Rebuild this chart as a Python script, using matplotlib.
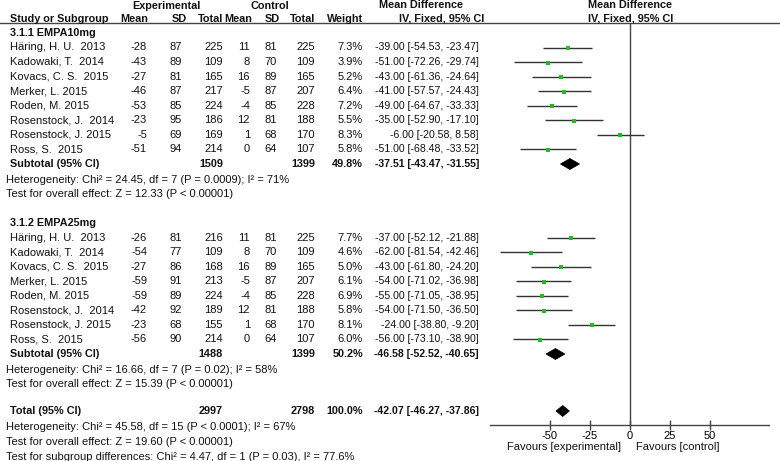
import matplotlib
matplotlib.use("Agg")
import matplotlib.pyplot as plt
from matplotlib.patches import Polygon

plt.rcParams['font.family'] = ['Liberation Sans', 'DejaVu Sans']

# ---------------- data ----------------
studies = ["Häring, H. U.  2013", "Kadowaki, T.  2014", "Kovacs, C. S.  2015",
           "Merker, L. 2015", "Roden, M. 2015", "Rosenstock, J.  2014",
           "Rosenstock, J. 2015", "Ross, S.  2015"]

group_names = ["3.1.1 EMPA10mg", "3.1.2 EMPA25mg"]

exp_mean1 = [-28, -43, -27, -46, -53, -23, -5, -51]
exp_sd1 = [87, 89, 81, 87, 85, 95, 69, 94]
exp_n1 = [225, 109, 165, 217, 224, 186, 169, 214]
ctl_mean1 = [11, 8, 16, -5, -4, 12, 1, 0]
ctl_sd1 = [81, 70, 89, 87, 85, 81, 68, 64]
ctl_n1 = [225, 109, 165, 207, 228, 188, 170, 107]
weight1 = [7.3, 3.9, 5.2, 6.4, 7.2, 5.5, 8.3, 5.8]
md1 = [-39.00, -51.00, -43.00, -41.00, -49.00, -35.00, -6.00, -51.00]
lo1 = [-54.53, -72.26, -61.36, -57.57, -64.67, -52.90, -20.58, -68.48]
hi1 = [-23.47, -29.74, -24.64, -24.43, -33.33, -17.10, 8.58, -33.52]

exp_mean2 = [-26, -54, -27, -59, -59, -42, -23, -56]
exp_sd2 = [81, 77, 86, 91, 89, 92, 68, 90]
exp_n2 = [216, 109, 168, 213, 224, 189, 155, 214]
ctl_mean2 = [11, 8, 16, -5, -4, 12, 1, 0]
ctl_sd2 = [81, 70, 89, 87, 85, 81, 68, 64]
ctl_n2 = [225, 109, 165, 207, 228, 188, 170, 107]
weight2 = [7.7, 4.6, 5.0, 6.1, 6.9, 5.8, 8.1, 6.0]
md2 = [-37.00, -62.00, -43.00, -54.00, -55.00, -54.00, -24.00, -56.00]
lo2 = [-52.12, -81.54, -61.80, -71.02, -71.05, -71.50, -38.80, -73.10]
hi2 = [-21.88, -42.46, -24.20, -36.98, -38.95, -36.50, -9.20, -38.90]

sub_exp_n = [1509, 1488]
sub_ctl_n = [1399, 1399]
sub_weight = [49.8, 50.2]
sub_md = [-37.51, -46.58]
sub_lo = [-43.47, -52.52]
sub_hi = [-31.55, -40.65]
sub_het = ["Heterogeneity: Chi² = 24.45, df = 7 (P = 0.0009); I² = 71%",
           "Heterogeneity: Chi² = 16.66, df = 7 (P = 0.02); I² = 58%"]
sub_test = ["Test for overall effect: Z = 12.33 (P < 0.00001)",
            "Test for overall effect: Z = 15.39 (P < 0.00001)"]

tot_exp_n = 2997
tot_ctl_n = 2798
tot_weight = 100.0
tot_md = -42.07
tot_lo = -46.27
tot_hi = -37.86
tot_notes = ["Heterogeneity: Chi² = 45.58, df = 15 (P < 0.0001); I² = 67%",
             "Test for overall effect: Z = 19.60 (P < 0.00001)",
             "Test for subgroup differences: Chi² = 4.47, df = 1 (P = 0.03), I² = 77.6%"]

xticks = [-50, -25, 0, 25, 50]
fav_left = "Favours [experimental]"
fav_right = "Favours [control]"

groups = [
    dict(em=exp_mean1, es=exp_sd1, en=exp_n1, cm=ctl_mean1, cs=ctl_sd1, cn=ctl_n1,
         w=weight1, md=md1, lo=lo1, hi=hi1),
    dict(em=exp_mean2, es=exp_sd2, en=exp_n2, cm=ctl_mean2, cs=ctl_sd2, cn=ctl_n2,
         w=weight2, md=md2, lo=lo2, hi=hi2),
]

# ---------------- layout ----------------
W, H = 780, 461
fig = plt.figure(figsize=(W / 100, H / 100), dpi=100)
fig.patch.set_facecolor('white')

tab = fig.add_axes([0, 0, 1, 1])
tab.set_xlim(0, W)
tab.set_ylim(H, 0)
tab.axis('off')

AX_L, AX_R, AX_T, AX_B = 490, 769, 23, 425
X0PIX = 630
PX_PER_UNIT = 1.6
fx = fig.add_axes([AX_L / W, (H - AX_B) / H, (AX_R - AX_L) / W, (AX_B - AX_T) / H])
fx.set_xlim((AX_L - X0PIX) / PX_PER_UNIT, (AX_R - X0PIX) / PX_PER_UNIT)
fx.set_ylim(AX_B, AX_T)
fx.patch.set_alpha(0)
for s in ['top', 'left', 'right']:
    fx.spines[s].set_visible(False)
fx.spines['bottom'].set_color('#444444')
fx.spines['bottom'].set_linewidth(1.0)
fx.set_yticks([])
fx.set_xticks(xticks)
fx.set_xticklabels([str(t) for t in xticks])
fx.tick_params(axis='x', direction='inout', length=7, width=1, color='#444444',
               labelsize=8, pad=1)
fx.axvline(0, color='#444444', lw=1.0)

FS = 8
HFS = 7.8
NFS = 7.6
TXT = '#111111'

def t(x, y, s, ha='left', bold=False, size=FS):
    tab.text(x, y, s, ha=ha, va='center', fontsize=size,
             fontweight='bold' if bold else 'normal', color=TXT)

# header
t(166, 6, "Experimental", ha='center', bold=True, size=HFS)
t(270, 6, "Control", ha='center', bold=True, size=HFS)
t(421, 5.5, "Mean Difference", ha='center', bold=True, size=HFS)
t(630, 5.5, "Mean Difference", ha='center', bold=True, size=HFS)
t(10, 18.5, "Study or Subgroup", bold=True, size=HFS)
t(148, 18.5, "Mean", ha='right', bold=True, size=HFS)
t(187, 18.5, "SD", ha='right', bold=True, size=HFS)
t(223, 18.5, "Total", ha='right', bold=True, size=HFS)
t(252, 18.5, "Mean", ha='right', bold=True, size=HFS)
t(280, 18.5, "SD", ha='right', bold=True, size=HFS)
t(315, 18.5, "Total", ha='right', bold=True, size=HFS)
t(363, 18.5, "Weight", ha='right', bold=True, size=HFS)
t(442, 18.5, "IV, Fixed, 95% CI", ha='center', bold=True, size=HFS)
t(631, 18.5, "IV, Fixed, 95% CI", ha='center', bold=True, size=HFS)
tab.plot([0, W], [23, 23], color='#444444', lw=1.0)

cols_r = [147, 182, 223, 250, 277, 315]
group_top = [33, 223]
STEP = 14.5

def diamond(md, lo, hi, y):
    poly = Polygon([(lo, y), (md, y - 5.5), (hi, y), (md, y + 5.5)],
                   closed=True, facecolor='black', edgecolor='black', lw=0.5)
    fx.add_patch(poly)

for g, gd in enumerate(groups):
    y0 = group_top[g]
    t(10, y0, group_names[g], bold=True, size=HFS)
    ys = []
    for i, name in enumerate(studies):
        y = y0 + 14.5 + i * STEP
        ys.append(y)
        t(10, y, name)
        vals = [gd['em'][i], gd['es'][i], gd['en'][i], gd['cm'][i], gd['cs'][i], gd['cn'][i]]
        for xr, v in zip(cols_r, vals):
            t(xr, y, str(v), ha='right')
        t(363, y, f"{gd['w'][i]:.1f}%", ha='right')
        t(479, y, f"{gd['md'][i]:.2f} [{gd['lo'][i]:.2f}, {gd['hi'][i]:.2f}]",
          ha='right', size=NFS)
    fx.hlines(ys, gd['lo'], gd['hi'], color='#333333', lw=1.0)
    fx.plot(gd['md'], [y + 0.5 for y in ys], 's', color='#22bb22', ms=2.6, mew=0)
    ysub = ys[-1] + 15
    t(10, ysub, "Subtotal (95% CI)", bold=True, size=HFS)
    t(223, ysub, str(sub_exp_n[g]), ha='right', bold=True, size=HFS)
    t(315, ysub, str(sub_ctl_n[g]), ha='right', bold=True, size=HFS)
    t(363, ysub, f"{sub_weight[g]:.1f}%", ha='right', bold=True, size=HFS)
    t(479, ysub, f"{sub_md[g]:.2f} [{sub_lo[g]:.2f}, {sub_hi[g]:.2f}]",
      ha='right', bold=True, size=NFS)
    diamond(sub_md[g], sub_lo[g], sub_hi[g], ysub)
    t(6, ysub + 15.5, sub_het[g])
    t(6, ysub + 30, sub_test[g])

ytot = 411
t(10, ytot, "Total (95% CI)", bold=True, size=HFS)
t(223, ytot, str(tot_exp_n), ha='right', bold=True, size=HFS)
t(315, ytot, str(tot_ctl_n), ha='right', bold=True, size=HFS)
t(363, ytot, f"{tot_weight:.1f}%", ha='right', bold=True, size=HFS)
t(479, ytot, f"{tot_md:.2f} [{tot_lo:.2f}, {tot_hi:.2f}]", ha='right', bold=True, size=NFS)
diamond(tot_md, tot_lo, tot_hi, ytot)
for k, s in enumerate(tot_notes):
    t(6, ytot + 15.5 + k * 15, s)

t(621, 447, fav_left, ha='right')
t(636, 447, fav_right, ha='left')

fig.savefig("out.png", dpi=100, facecolor='white')
